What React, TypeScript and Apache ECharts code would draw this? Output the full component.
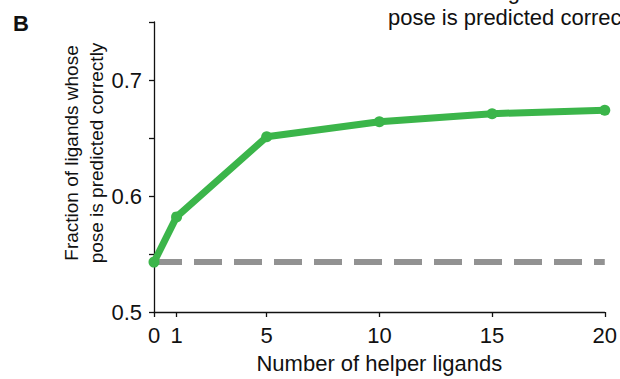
import React, { useEffect, useRef } from "react";
import * as echarts from "echarts";

const helperCounts = [0, 1, 5, 10, 15, 20];
const fractionCorrect = [0.543, 0.582, 0.651, 0.664, 0.671, 0.674];
const baselineValue = 0.543;
const xTickValues = [0, 1, 5, 10, 15, 20];
const yLabelValues = [0.5, 0.6, 0.7];

const FONT = "'Liberation Sans', Arial, Helvetica, sans-serif";

export default function App() {
  const ref = useRef<HTMLDivElement>(null);
  useEffect(() => {
    if (!ref.current) return;
    const chart = echarts.init(ref.current, null, { renderer: "svg" });
    chart.setOption({
      animation: false,
      backgroundColor: "#ffffff",
      grid: { left: 154, right: 14, top: 22, bottom: 63 },
      xAxis: {
        type: "value",
        min: 0,
        max: 20,
        name: "Number of helper ligands",
        nameLocation: "middle",
        nameGap: 40,
        nameTextStyle: { fontFamily: FONT, fontSize: 22, color: "#111" },
        splitLine: { show: false },
        axisLine: { lineStyle: { color: "#111", width: 1.3 } },
        axisTick: {
          customValues: xTickValues,
          length: 5,
          lineStyle: { color: "#111", width: 1.3 },
        },
        axisLabel: {
          customValues: xTickValues,
          fontFamily: FONT,
          fontSize: 22,
          color: "#111",
          margin: 12,
        },
      },
      yAxis: {
        type: "value",
        min: 0.5,
        max: 0.75,
        interval: 0.05,
        splitLine: { show: false },
        axisLine: { show: true, lineStyle: { color: "#111", width: 1.3 } },
        axisTick: { show: true, length: 5, lineStyle: { color: "#111", width: 1.3 } },
        axisLabel: {
          fontFamily: FONT,
          fontSize: 22,
          color: "#111",
          margin: 12,
          formatter: (v: number) =>
            yLabelValues.some((t) => Math.abs(t - v) < 1e-6) ? v.toFixed(1) : "",
        },
      },
      series: [
        {
          type: "line",
          data: [
            [helperCounts[0], baselineValue],
            [helperCounts[helperCounts.length - 1], baselineValue],
          ],
          symbol: "none",
          z: 1,
          lineStyle: { color: "#929292", width: 6, type: [28, 12] },
        },
        {
          type: "line",
          data: helperCounts.map((x, i) => [x, fractionCorrect[i]]),
          symbol: "circle",
          symbolSize: 11,
          z: 2,
          itemStyle: { color: "#3bb54a" },
          lineStyle: { color: "#3bb54a", width: 7, cap: "round", join: "round" },
        },
      ],
      graphic: [
        {
          type: "text",
          left: 13,
          top: 12,
          style: { text: "B", font: `bold 22px ${FONT}`, fill: "#111" },
        },
        {
          type: "text",
          x: 84,
          y: 153,
          rotation: Math.PI / 2,
          style: {
            text: "Fraction of ligands whose\npose is predicted correctly",
            font: `19px ${FONT}`,
            fill: "#111",
            align: "center",
            verticalAlign: "middle",
            lineHeight: 25,
          },
        },
        {
          type: "text",
          x: 388,
          y: -22,
          style: {
            text: "Fraction of ligands whose\npose is predicted correctly",
            font: `22px ${FONT}`,
            fill: "#111",
            align: "left",
            verticalAlign: "top",
            lineHeight: 26,
          },
        },
      ],
    });
    return () => chart.dispose();
  }, []);
  return <div ref={ref} style={{ width: 620, height: 379, position: "absolute", left: 0, top: 0 }} />;
}
